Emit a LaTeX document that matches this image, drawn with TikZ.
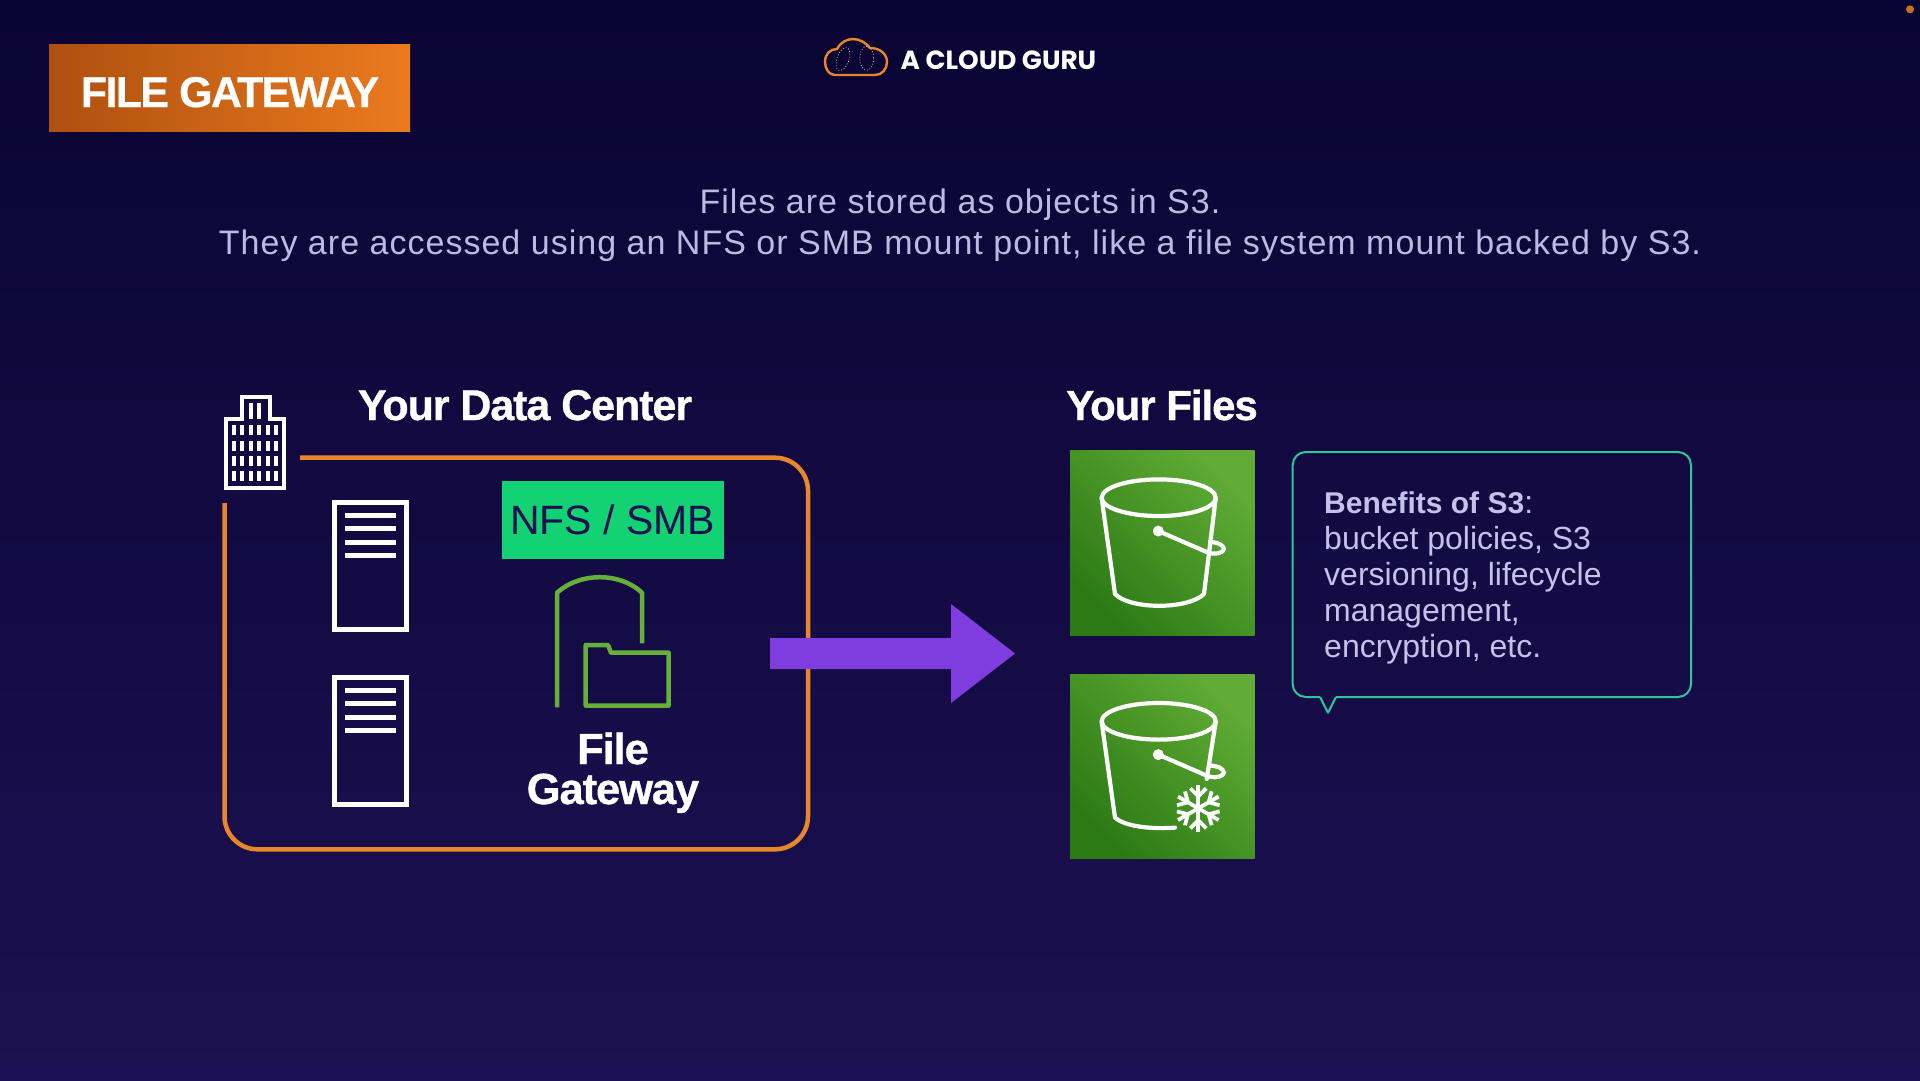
\documentclass[tikz,border=0pt]{standalone}
\usepackage{fontspec}
\setmainfont{Liberation Sans}
\newfontfamily\headfont[LetterSpace=-2.5,BoldFeatures={FakeBold=0.8}]{Liberation Sans}
\newfontfamily\titlefont[LetterSpace=-4,BoldFeatures={FakeBold=0.5}]{Liberation Sans}
\newfontfamily\bodyfont[LetterSpace=3]{Liberation Sans}
\newfontfamily\logofont{Poppins}
\newcommand{\fsize}[2]{\fontsize{#1}{#2}\selectfont}
\definecolor{bgtop}{HTML}{0A0433}
\definecolor{bgbottom}{HTML}{1C1152}
\definecolor{framecol}{HTML}{E8862A}
\definecolor{titleleft}{HTML}{AE500F}
\definecolor{titleright}{HTML}{EC7A1E}
\definecolor{nfsgreen}{HTML}{12D273}
\definecolor{nfstext}{HTML}{1A1050}
\definecolor{icongreen}{HTML}{66B03A}
\definecolor{bluegreen}{HTML}{2FC79A}
\definecolor{arrowcol}{HTML}{7F3DE0}
\definecolor{bodytext}{HTML}{BDB9E0}
\definecolor{bubbletext}{HTML}{C6C1E8}
\definecolor{greendark}{HTML}{2B7A14}
\definecolor{greenlight}{HTML}{60AC36}
\tikzset{
  heading/.style={anchor=base,text=white,font=\headfont\bfseries\fsize{42}{40}},
  bodyline/.style={anchor=base,text=bodytext,font=\bodyfont\fsize{34}{34}},
  whiteline/.style={draw=white,line width=5pt},
  bucketline/.style={draw=white,line width=4.2pt,line join=round,line cap=round},
}
\newcommand{\bucketsquare}{
  \shade[left color=greendark,right color=greenlight,shading angle=135] (0,0) rectangle (184.5,184.5);
  \draw[bucketline] (88.7,47) ellipse (57 and 18.3);
  \fill[white] (88.3,80.3) circle (5.5);
  \draw[bucketline] (88.3,80.3) -- (138.3,102) .. controls (148,105) and (158,100) .. (152,95) .. controls (149,92) and (145,92) .. (140,91);
}
\begin{document}
\begin{tikzpicture}[x=1pt,y=-1pt]
  \shade[top color=bgtop,bottom color=bgbottom] (0,0) rectangle (1920,1080);
  \useasboundingbox (0,0) rectangle (1920,1080);
  \fill[framecol!85!black] (1910,9.3) circle (4);

  %Title
  \shade[left color=titleleft,right color=titleright] (49,44) rectangle (410,131);
  \node[heading,font=\titlefont\bfseries\fsize{43}{43}] at (230,107) (title) {FILE GATEWAY};

  %Logo
  \draw[framecol,line width=2.4pt,line join=round] (835,75) .. controls (829,75) and (825,69) .. (825,62)
    .. controls (825,54) and (830,49) .. (837,49) .. controls (840,43) and (846,39) .. (853,39)
    .. controls (860,39) and (866,43) .. (870,48) .. controls (880,48) and (887,54) .. (887,62)
    .. controls (887,69) and (882,75) .. (875,75) -- cycle;
  \draw[framecol!60!white,line width=0.8pt,dotted] (866.7,58.3) ellipse (7 and 12);
  \draw[framecol!60!white,line width=0.8pt,dotted,rotate around={-20:(843,59)}] (843,59) ellipse (6 and 12);
  \node[anchor=base west,text=white,font=\logofont\bfseries\fsize{26.3}{26.3}] at (897,69.5) (logo) {A CLOUD GURU};

  %Intro text
  \node[bodyline] at (960,213) (line1) {Files are stored as objects in S3.};
  \node[bodyline] at (960,254) (line2) {They are accessed using an NFS or SMB mount point, like a file system mount backed by S3.};

  %Data center
  \node[heading,font=\headfont\bfseries\fsize{43}{43}] at (525,420) (center) {Your Data Center};
  \draw[framecol,line width=4.5pt,rounded corners=33pt] (300,457.7) -- (808,457.7) -- (808,849.3) -- (224.5,849.3) -- (224.5,503);

  %Building
  \draw[white,line width=4pt] (226,488) -- (226,419) -- (241.7,419) -- (241.7,397) -- (270,397) -- (270,419) -- (284,419) -- (284,488) -- cycle;
  \foreach \row in {430,445.7,460.7,475.7}
    \foreach \col in {234,241.7,251,258.7,267.7,275.7}
      \fill[white] (\col-2,\row-4.8) rectangle (\col+2,\row+4.8);
  \foreach \col in {251,258.7}
    \fill[white] (\col-2,403) rectangle (\col+2,419);

  %Servers
  \foreach \top in {500,675} {
    \draw[whiteline] (334.5,\top+2.5) rectangle (406.5,\top+129.5);
    \foreach \dy in {15.7,28.9,42.2,55.4}
      \draw[white,line width=5pt] (345,\top+\dy) -- (396,\top+\dy);
  }

  %Gateway
  \node[fill=nfsgreen,minimum width=222.4pt,minimum height=78.3pt,text=nfstext,font=\fsize{41}{41}] at (612.8,519.8) (nfs) {NFS / SMB};
  \draw[icongreen,line width=4.5pt,line join=round] (557,707.3) -- (557,592.7) .. controls (580,572) and (620,572) .. (642,592.7) -- (642,643.3);
  \draw[icongreen,line width=4.5pt,line join=round] (585.7,705.7) -- (585.7,645) -- (608,645) -- (611,652.7) -- (668.6,652.7) -- (668.6,705.7) -- cycle;
  \node[heading,align=center,font=\headfont\bfseries\fsize{43.5}{40}] at (613,804) (gateway) {File\\Gateway};

  %Arrow
  \fill[arrowcol] (770,638) -- (951,638) -- (951,604) -- (1015,653.5) -- (951,703) -- (951,669) -- (770,669) -- cycle;

  %Files
  \node[heading] at (1162,420) (files) {Your Files};
  \begin{scope}[shift={(1070,450.7)}]
    \bucketsquare
    \draw[bucketline] (31.7,47.7) -- (45,143.3) .. controls (60,159) and (118,159) .. (134,143.3) -- (145.7,47.7);
  \end{scope}
  \begin{scope}[shift={(1070,674.3)}]
    \bucketsquare
    \draw[bucketline] (31.7,47.7) -- (45,143.3) .. controls (56,153) and (85,155) .. (105,153.3);
    \draw[bucketline] (145.7,47.7) -- (136.7,104.7);
    \foreach \ang in {30,90,150,210,270,330} {
      \begin{scope}[shift={(128.3,134)},rotate=\ang]
        \draw[white,line width=3.8pt] (0,0) -- (23.5,0);
        \draw[white,line width=3.8pt] (12,0) -- (20,-8);
        \draw[white,line width=3.8pt] (12,0) -- (20,8);
      \end{scope}
    }
  \end{scope}

  %Bubble
  \draw[bluegreen,line width=2pt,rounded corners=13pt] (1320,697) -- (1292.7,697) -- (1292.7,452) -- (1691,452) -- (1691,697) -- (1336,697);
  \draw[bluegreen,line width=2pt,line join=round] (1320,697) -- (1328,712.7) -- (1336,697);
  \node[anchor=base west,align=left,inner sep=0pt,text=bubbletext,font=\fsize{32}{36}] at (1324,657) (benefits)
    {{\bfseries\fontsize{30}{36}\selectfont Benefits of S3}:\\bucket policies, S3\\versioning, lifecycle\\management,\\encryption, etc.};
\end{tikzpicture}
\end{document}
